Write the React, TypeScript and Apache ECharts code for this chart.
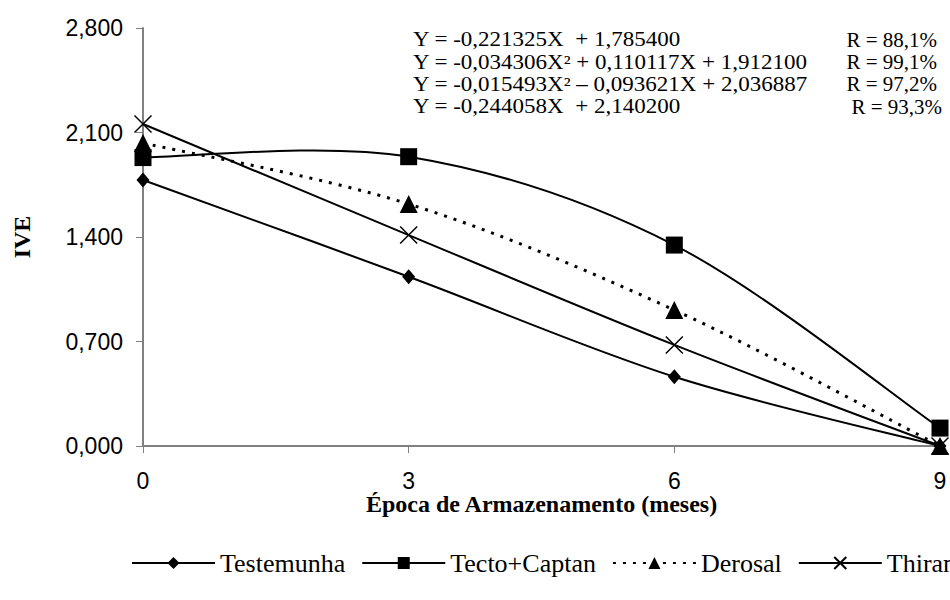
import React, { useEffect, useRef } from "react";
import * as echarts from "echarts";

const months = [0, 3, 6, 9];
const testemunha = [1.782, 1.134, 0.464, 0.0];
const tectoCaptan = [1.932, 1.938, 1.346, 0.12];
const derosal = [2.03, 1.621, 0.911, 0.0];
const thiram = [2.157, 1.413, 0.677, 0.0];
const seriesNames = ["Testemunha", "Tecto+Captan", "Derosal", "Thiram"];
const equations = [
  "Y = -0,221325X  + 1,785400",
  "Y = -0,034306X² + 0,110117X + 1,912100",
  "Y = -0,015493X² – 0,093621X + 2,036887",
  "Y = -0,244058X  + 2,140200",
];
const rValues = ["R = 88,1%", "R = 99,1%", "R = 97,2%", "R = 93,3%"];

const SERIF = "'Liberation Serif', 'Times New Roman', serif";
const SANS = "'Liberation Sans', Arial, sans-serif";

function pairs(vals: number[]) {
  return vals.map((v, i) => [months[i], v]);
}

// Excel-like (Catmull-Rom) smoothed path through pixel points
function smoothPath(pts: number[][]) {
  let d = `M${pts[0][0]},${pts[0][1]}`;
  for (let i = 0; i < pts.length - 1; i++) {
    const p0 = pts[i - 1] || pts[i];
    const p1 = pts[i];
    const p2 = pts[i + 1];
    const p3 = pts[i + 2] || pts[i + 1];
    const c1x = p1[0] + (p2[0] - p0[0]) / 6;
    const c1y = p1[1] + (p2[1] - p0[1]) / 6;
    const c2x = p2[0] - (p3[0] - p1[0]) / 6;
    const c2y = p2[1] - (p3[1] - p1[1]) / 6;
    d += ` C${c1x},${c1y} ${c2x},${c2y} ${p2[0]},${p2[1]}`;
  }
  return d;
}

function curveSeries(vals: number[], dash: number[] | null) {
  return {
    type: "custom",
    name: "_curve",
    silent: true,
    z: 2,
    data: pairs(vals),
    renderItem: (params: any, api: any) => {
      if (params.dataIndex !== 0) return null;
      const pts = vals.map((v, i) => api.coord([months[i], v]));
      return {
        type: "path",
        shape: { pathData: smoothPath(pts) },
        style: {
          fill: "none",
          stroke: "#000",
          lineWidth: dash ? 3 : 2,
          lineDash: dash || undefined,
        },
      };
    },
  };
}

export default function App() {
  const ref = useRef<HTMLDivElement>(null);
  useEffect(() => {
    if (!ref.current) return;
    const chart = echarts.init(ref.current, undefined, { renderer: "svg" });
    const common = {
      type: "line",
      color: "#000",
      z: 3,
    };
    const eqTexts: any[] = [];
    equations.forEach((t, i) => {
      eqTexts.push({
        type: "text",
        x: 413,
        y: 40 + i * 22.3,
        scaleX: 1.15,
        style: { text: t, font: `20px ${SERIF}`, fill: "#000", verticalAlign: "middle" },
      });
      eqTexts.push({
        type: "text",
        x: i === 3 ? 942 : 937,
        y: 40 + i * 22.3,
        scaleX: 1.05,
        style: { text: rValues[i], font: `20px ${SERIF}`, fill: "#000", verticalAlign: "middle", align: "right" },
      });
    });
    chart.setOption({
      animation: false,
      backgroundColor: "#fff",
      grid: { left: 143, right: 10, top: 28, bottom: 154, containLabel: false },
      xAxis: {
        type: "value",
        min: 0,
        max: 9,
        interval: 3,
        name: "Época de Armazenamento (meses)",
        nameLocation: "middle",
        nameGap: 46,
        nameMoveOverlap: false,
        nameTextStyle: { fontFamily: SERIF, fontWeight: "bold", fontSize: 24, color: "#000" },
        axisLine: { lineStyle: { color: "#808080", width: 2 } },
        axisTick: { inside: false, length: 7, lineStyle: { color: "#808080" } },
        axisLabel: { fontFamily: SANS, fontSize: 23, color: "#000", margin: 23 },
        splitLine: { show: false },
      },
      yAxis: {
        type: "value",
        min: 0,
        max: 2.8,
        interval: 0.7,
        name: "IVE",
        nameLocation: "middle",
        nameGap: 109,
        nameTextStyle: { fontFamily: SERIF, fontWeight: "bold", fontSize: 24, color: "#000" },
        axisLine: { show: true, lineStyle: { color: "#808080", width: 2 } },
        axisTick: { show: true, inside: false, length: 7, lineStyle: { color: "#808080" } },
        axisLabel: {
          fontFamily: SANS,
          fontSize: 23,
          color: "#000",
          margin: 20,
          formatter: (v: number) => v.toFixed(3).replace(".", ","),
        },
        splitLine: { show: false },
      },
      legend: {
        left: 126,
        top: 545,
        width: 1400,
        itemWidth: 83,
        itemHeight: 15,
        itemGap: 16,
        lineStyle: { opacity: 1, width: 2 },
        textStyle: { fontFamily: SERIF, fontSize: 26, color: "#000" },
        data: seriesNames,
      },
      graphic: eqTexts,
      series: [
        curveSeries(testemunha, null),
        curveSeries(tectoCaptan, null),
        curveSeries(derosal, [3, 7]),
        curveSeries(thiram, null),
        {
          ...common,
          name: seriesNames[0],
          data: pairs(testemunha),
          symbol: "diamond",
          symbolSize: [13, 15],
          lineStyle: { color: "#000", width: 2, opacity: 0 },
          itemStyle: { color: "#000" },
        },
        {
          ...common,
          name: seriesNames[1],
          data: pairs(tectoCaptan),
          symbol: "rect",
          symbolSize: 17,
          lineStyle: { color: "#000", width: 2, opacity: 0 },
          itemStyle: { color: "#000" },
        },
        {
          ...common,
          name: seriesNames[2],
          data: pairs(derosal),
          symbol: "triangle",
          symbolSize: 18,
          lineStyle: { color: "#000", width: 3, type: [3, 7], opacity: 0 },
          itemStyle: { color: "#000" },
        },
        {
          ...common,
          name: seriesNames[3],
          data: pairs(thiram),
          symbol: "path://M0,0L10,10M10,0L0,10",
          symbolSize: 17,
          lineStyle: { color: "#000", width: 2, opacity: 0 },
          itemStyle: { color: "#000", borderColor: "#000", borderWidth: 1.5 },
        },
      ],
    });
    return () => chart.dispose();
  }, []);
  return (
    <div
      ref={ref}
      style={{ position: "absolute", left: 0, top: 0, width: 950, height: 600 }}
    />
  );
}
